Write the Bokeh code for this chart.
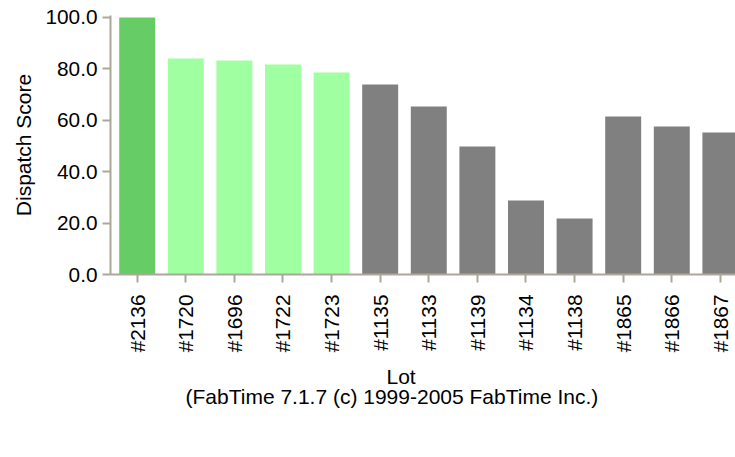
import math
from bokeh.plotting import figure
from bokeh.layouts import column
from bokeh.models import (Range1d, FixedTicker, NumeralTickFormatter, Legend,
                          LegendItem, Title, ColumnDataSource)
from bokeh.embed import file_html
from bokeh.resources import INLINE

# ---- data ----
lots = ["#2136", "#1720", "#1696", "#1722", "#1723", "#1135", "#1133",
        "#1139", "#1134", "#1138", "#1865", "#1866", "#1867"]
scores = [100.0, 84.0, 83.2, 81.7, 78.6, 73.9, 65.3,
          49.8, 28.8, 21.8, 61.5, 57.6, 55.2]
runs = ["1st Run", "2nd Run", "2nd Run", "2nd Run", "2nd Run",
        "Later Run", "Later Run", "Later Run", "Later Run", "Later Run",
        "Later Run", "Later Run", "Later Run"]
run_names = ["1st Run", "2nd Run", "Later Run"]
run_colors = ["#66cc66", "#a0ffa0", "#808080"]
y_ticks = [0, 20, 40, 60, 80, 100]

FONT = "Liberation Sans"
AXIS_COLOR = "#aca899"

p = figure(width=735, height=417, output_backend="svg", toolbar_location=None,
           x_range=Range1d(-0.549, 12.311), y_range=Range1d(0, 100.74),
           min_border_left=110, min_border_right=0, min_border_top=15,
           min_border_bottom=143)
p.outline_line_color = None
p.xgrid.visible = False
p.ygrid.visible = False
p.background_fill_color = "white"
p.border_fill_color = "white"

idx = list(range(len(lots)))
for name, color in zip(run_names, run_colors):
    xs = [i for i in idx if runs[i] == name]
    src = ColumnDataSource(dict(x=xs, top=[scores[i] for i in xs]))
    p.vbar(x="x", top="top", bottom=0, width=0.74, source=src,
           fill_color=color, line_color=None)

# y axis
ya = p.yaxis[0]
ya.ticker = FixedTicker(ticks=y_ticks)
ya.formatter = NumeralTickFormatter(format="0.0")
ya.axis_label = "Dispatch Score"
ya.axis_label_text_font = FONT
ya.axis_label_text_font_style = "normal"
ya.axis_label_text_font_size = "21px"
ya.axis_label_text_color = "black"
ya.axis_label_standoff = 7
ya.major_label_text_font = FONT
ya.major_label_text_font_size = "20.8px"
ya.major_label_text_color = "black"
ya.major_label_standoff = 5
ya.axis_line_color = AXIS_COLOR
ya.axis_line_width = 2
ya.major_tick_line_color = AXIS_COLOR
ya.major_tick_line_width = 2
ya.major_tick_out = 8
ya.major_tick_in = 0
ya.minor_tick_line_color = None

# x axis
xa = p.xaxis[0]
xa.ticker = FixedTicker(ticks=idx)
xa.major_label_overrides = {i: lab for i, lab in enumerate(lots)}
xa.major_label_orientation = math.pi / 2
xa.major_label_text_font = FONT
xa.major_label_text_font_size = "20.8px"
xa.major_label_text_color = "black"
xa.major_label_standoff = 12
xa.axis_line_color = AXIS_COLOR
xa.axis_line_width = 2
xa.major_tick_line_color = AXIS_COLOR
xa.major_tick_line_width = 2
xa.major_tick_out = 8
xa.major_tick_in = 0
xa.minor_tick_line_color = None

# titles below
spacer = Title(text=" ", text_font_size="2px", standoff=3)
t1 = Title(text="Lot", align="left", offset=276, text_font=FONT,
           text_font_size="21px", text_font_style="normal",
           text_color="black", standoff=0, vertical_align="bottom")
t2 = Title(text="(FabTime 7.1.7 (c) 1999-2005 FabTime Inc.)", align="left",
           offset=75, text_font=FONT, text_font_size="21px",
           text_font_style="normal", text_color="black", standoff=-6,
           vertical_align="top")
p.add_layout(spacer, "below")
p.add_layout(t1, "below")
p.add_layout(t2, "below")

# legend strip: key entries only
lg = figure(width=735, height=40, output_backend="svg", toolbar_location=None,
            x_range=Range1d(-0.549, 12.311), y_range=Range1d(0, 100.74),
            min_border_left=0, min_border_right=0, min_border_top=0,
            min_border_bottom=0, x_axis_type=None, y_axis_type=None)
lg.outline_line_color = None
lg.xgrid.visible = False
lg.ygrid.visible = False
lg.background_fill_color = "white"
lg.border_fill_color = "white"
lg_renderers = []
for color in run_colors:
    key_src = ColumnDataSource(dict(x=[], top=[]))
    r = lg.vbar(x="x", top="top", bottom=0, width=0.74, source=key_src,
                fill_color=color, line_color=None)
    lg_renderers.append(r)

legend = Legend(items=[LegendItem(label=n, renderers=[r])
                       for n, r in zip(run_names, lg_renderers)],
                orientation="horizontal", location=(-106, 0),
                glyph_width=32, glyph_height=32, label_standoff=12,
                label_width=10, label_height=20, spacing=148, padding=0,
                margin=0, border_line_color=None, background_fill_alpha=0,
                label_text_font=FONT, label_text_font_size="21px",
                label_text_color="black")
lg.add_layout(legend, "above")

layout = column(p, lg, spacing=0)
open("out.html", "w").write(file_html(layout, INLINE))
